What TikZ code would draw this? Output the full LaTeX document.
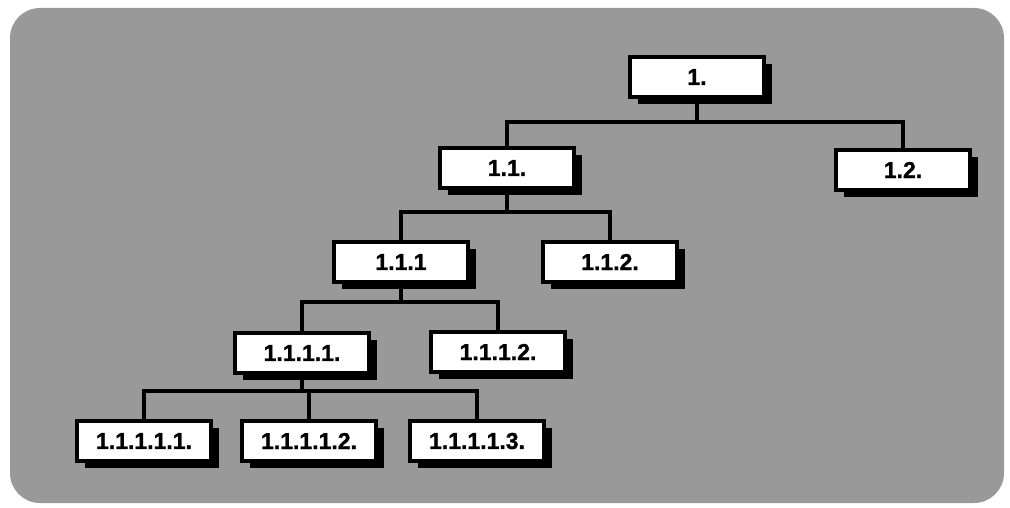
\documentclass[tikz,border=0pt]{standalone}
\usepackage{fontspec}
\setmainfont{Liberation Sans}
\newfontfamily\heavyfont[FakeBold=1.2]{Liberation Sans Bold}
\begin{document}
\begin{tikzpicture}[x=1pt,y=-1pt,
  box/.style={draw=black,line width=4pt,fill=white,minimum width=134pt,minimum height=40pt,inner sep=0pt,
    font=\heavyfont\fontsize{23}{23}\selectfont,
    preaction={fill=black,transform canvas={shift={(8pt,-7pt)}}}},
  conn/.style={line width=4.5pt,line cap=rect}]
\useasboundingbox (0,0) rectangle (1010,508);
\fill[black!40,rounded corners=30pt] (10,8) rectangle (1004,503);
\coordinate (b1) at (697,122);
\coordinate (b2) at (506,212);
\coordinate (b3) at (400,302);
\coordinate (b4) at (301,391);
\node[box] (n1) at (697,77) {1.};
\node[box] (n11) at (507,168) {1.1.};
\node[box] (n12) at (903,170) {1.2.};
\node[box] (n111) at (401,262) {1.1.1};
\node[box] (n112) at (610,262) {1.1.2.};
\node[box] (n1111) at (302,353) {1.1.1.1.};
\node[box] (n1112) at (498,352) {1.1.1.2.};
\node[box] (n11111) at (144,441) {1.1.1.1.1.};
\node[box] (n11112) at (309,441) {1.1.1.1.2.};
\node[box] (n11113) at (477,441) {1.1.1.1.3.};
\draw[conn] (n1.south) -- (b1);
\draw[conn] (n11.north) |- (b1) -| (n12.north);
\draw[conn] (n11.south) -- (n11.south |- b2);
\draw[conn] (n111.north) |- (b2) -| (n112.north);
\draw[conn] (n111.south) -- (n111.south |- b3);
\draw[conn] (n1111.north) |- (b3) -| (n1112.north);
\draw[conn] (n1111.south) -- (n1111.south |- b4);
\draw[conn] (n11111.north) |- (b4) -| (n11113.north);
\draw[conn] (n11112.north) -- (n11112.north |- b4);
\end{tikzpicture}
\end{document}
